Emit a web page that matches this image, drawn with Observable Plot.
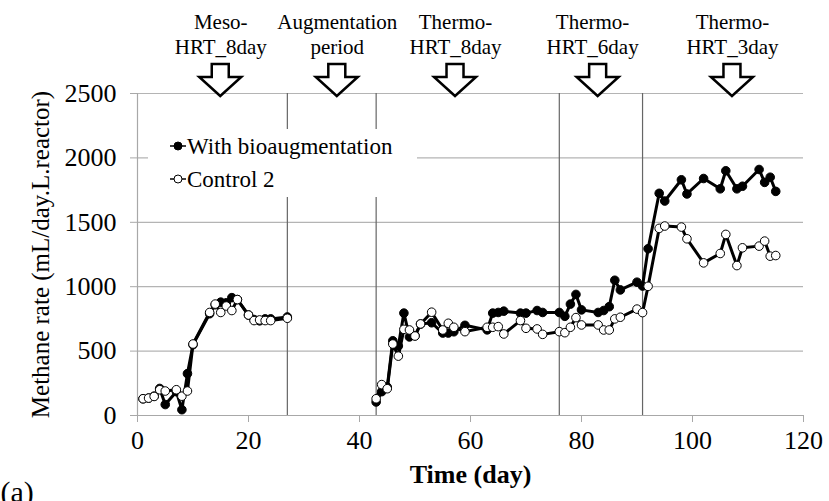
<!DOCTYPE html>
<html><head><meta charset="utf-8">
<script src="https://cdn.jsdelivr.net/npm/d3@7"></script>
<script src="https://cdn.jsdelivr.net/npm/@observablehq/plot@0.6"></script>
<style>body{margin:0;background:#fff} svg{display:block} svg text{font-family:'Liberation Serif','Times New Roman',serif !important}</style>
</head><body><div id="chart"></div>
<script>
// ---- data ----
const days = [1,2,3,4,5,7,8,9,10,13,14,15,16,17,18,20,21,22,23,24,27,
  43,44,45,46,47,48,49,50,51,53,55,56,57,59,63,64,65,66,69,70,72,73,76,77,78,79,80,83,84,85,86,87,90,91,92,94,95,98,99,102,105,106,108,109,112,113,114,115];
const withBioaug = [130,135,150,210,85,185,45,325,550,790,860,880,875,915,900,780,745,735,750,750,765,
  105,185,220,580,540,795,610,620,710,720,640,640,650,700,665,795,800,810,795,795,815,800,800,770,865,940,820,800,815,845,1050,975,1035,1005,1295,1725,1665,1830,1720,1840,1760,1900,1760,1780,1910,1810,1850,1740];
const control2 = [130,135,148,200,190,200,150,190,555,800,865,800,850,815,900,780,737,742,737,737,755,
  130,240,208,555,461,669,664,617,711,802,664,716,685,651,685,685,690,633,737,677,672,630,651,643,685,760,703,703,664,664,750,763,826,799,1003,1453,1471,1463,1372,1185,1258,1406,1164,1302,1315,1354,1237,1242];
const phaseBoundaries = [27, 43, 76, 91];
const phaseLabels = ["Meso-\nHRT_8day", "Augmentation\nperiod", "Thermo-\nHRT_8day", "Thermo-\nHRT_6day", "Thermo-\nHRT_3day"];
const phaseLabelDays = [15, 36, 57.3, 82, 107.2];
const arrowDays = [15, 36, 57.3, 83, 107.2];
const xTicks = [0, 20, 40, 60, 80, 100, 120];
const yTicks = [0, 500, 1000, 1500, 2000, 2500];
const seriesNames = ["With bioaugmentation", "Control 2"];

// ---- tables ----
const bio = days.map((d, i) => ({day: d, v: withBioaug[i], seg: d < 35 ? 0 : 1}));
const ctl = days.map((d, i) => ({day: d, v: control2[i], seg: d < 35 ? 0 : 1}));
const phases = phaseLabelDays.map((d, i) => ({day: d, label: phaseLabels[i]}));

const FONT = "'Liberation Serif', 'Times New Roman', serif";

function arrowMark(index, scales, values, dims) {
  const g = d3.create("svg:g");
  const top = dims.marginTop;
  for (const d of arrowDays) {
    const cx = scales.x(d);
    const p = [[cx-8.5, top-29],[cx+8.5, top-29],[cx+8.5, top-16],[cx+21, top-16],[cx, top+3],[cx-21, top-16],[cx-8.5, top-16]];
    g.append("path").attr("d", "M" + p.map(q => q.join(",")).join("L") + "Z")
      .attr("fill", "white").attr("stroke", "black").attr("stroke-width", 2.5);
  }
  return g.node();
}

function legendMark(index, scales, values, dims) {
  const g = d3.create("svg:g");
  const x0 = dims.marginLeft + 11, y0 = dims.marginTop + 36;
  g.append("rect").attr("x", x0).attr("y", y0).attr("width", 269).attr("height", 68).attr("fill", "white");
  const rows = [{y: y0 + 17, fill: "black"}, {y: y0 + 50, fill: "white"}];
  rows.forEach((r, i) => {
    g.append("line").attr("x1", x0 + 22).attr("x2", x0 + 38).attr("y1", r.y).attr("y2", r.y).attr("stroke", "black").attr("stroke-width", 1.5);
    g.append("circle").attr("cx", x0 + 30).attr("cy", r.y).attr("r", 4).attr("fill", r.fill).attr("stroke", "black").attr("stroke-width", 1);
    g.append("text").attr("x", x0 + 39).attr("y", r.y + 8).attr("text-anchor", "start")
      .attr("font-size", 23).attr("font-family", FONT).attr("fill", "black").text(seriesNames[i]);
  });
  return g.node();
}

const chart = Plot.plot({
  width: 829, height: 501,
  marginLeft: 137, marginRight: 26, marginTop: 93, marginBottom: 86,
  style: {fontFamily: FONT, fontSize: "26px", background: "white", color: "black", overflow: "visible"},
  x: {domain: [0, 120]},
  y: {domain: [0, 2500]},
  marks: [
    Plot.gridY(yTicks.filter(t => t > 0), {stroke: "#b4b4b4", strokeOpacity: 1, strokeWidth: 1.2}),
    Plot.ruleX(phaseBoundaries, {y1: 0, y2: 2500, stroke: "#666", strokeWidth: 1.2}),
    Plot.ruleY([0], {stroke: "#a8a8a8", strokeWidth: 1.2}),
    Plot.ruleX([0], {stroke: "#a8a8a8", strokeWidth: 1.2}),
    Plot.axisX({ticks: xTicks, tickFormat: d => String(d), tickSize: 7, tickPadding: 8, stroke: "#a8a8a8", fill: "black", label: null, fontSize: 26, fontFamily: FONT, fontVariant: "normal"}),
    Plot.axisY({ticks: yTicks, tickFormat: d => String(d), tickSize: 7, tickPadding: 14, stroke: "#a8a8a8", fill: "black", label: null, fontSize: 26, fontFamily: FONT, fontVariant: "normal"}),
    legendMark,
    Plot.line(bio, {x: "day", y: "v", z: "seg", stroke: "black", strokeWidth: 3}),
    Plot.dot(bio, {x: "day", y: "v", r: 4.3, fill: "black", stroke: "black", strokeWidth: 1}),
    Plot.line(ctl, {x: "day", y: "v", z: "seg", stroke: "black", strokeWidth: 3}),
    Plot.dot(ctl, {x: "day", y: "v", r: 4.3, fill: "white", stroke: "black", strokeWidth: 1}),
    Plot.text(phases, {x: "day", y: () => 2500, text: "label", dy: -60, lineAnchor: "middle", lineHeight: 1.2, fontSize: 21, fill: "black"}),
    arrowMark,
    Plot.text(["Methane rate (mL/day.L.reactor)"], {frameAnchor: "left", textAnchor: "middle", rotate: -90, dx: -97, fontSize: 25, fill: "black"}),
    Plot.text(["Time (day)"], {frameAnchor: "bottom", dy: 67, fontSize: 26, fontWeight: "bold", fill: "black"}),
    Plot.text(["(a)"], {frameAnchor: "bottom-left", textAnchor: "start", dx: -137, dy: 77, lineAnchor: "middle", fontSize: 30, fill: "black"})
  ]
});
document.getElementById("chart").append(chart);
</script>
</body></html>
